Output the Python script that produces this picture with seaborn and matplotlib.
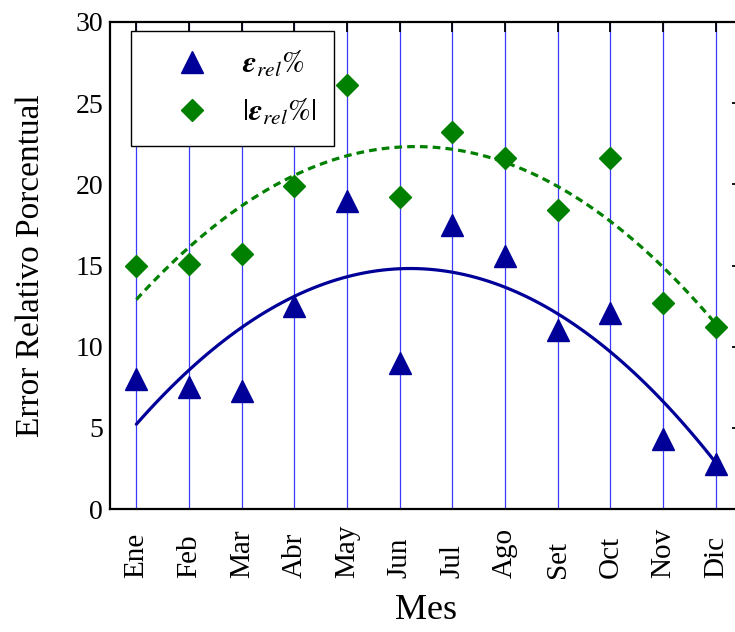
import numpy as np
import pandas as pd
import matplotlib
matplotlib.use('Agg')
import matplotlib.pyplot as plt
import seaborn as sns
from matplotlib.ticker import MultipleLocator

meses = ['Ene', 'Feb', 'Mar', 'Abr', 'May', 'Jun', 'Jul', 'Ago', 'Set', 'Oct', 'Nov', 'Dic']
err_rel = [8.0, 7.5, 7.3, 12.5, 19.0, 9.0, 17.5, 15.6, 11.0, 12.1, 4.3, 2.8]
err_abs = [15.0, 15.1, 15.7, 19.9, 26.1, 19.2, 23.2, 21.6, 18.4, 21.6, 12.7, 11.2]

df = pd.DataFrame({'mes': np.arange(len(meses)), 'rel': err_rel, 'abs': err_abs})

sns.set_style('white')
plt.rcParams['font.family'] = ['Liberation Serif', 'DejaVu Serif']
plt.rcParams['mathtext.fontset'] = 'stix'
plt.rcParams['text.color'] = 'black'
plt.rcParams['axes.labelcolor'] = 'black'
plt.rcParams['xtick.color'] = 'black'
plt.rcParams['ytick.color'] = 'black'

fig = plt.figure(figsize=(7.35, 6.32), dpi=100)
ax = fig.add_axes([0.1497, 0.1946, 0.860, 0.7706])

azul = '#000099'
verde = '#008000'

# month guide lines
for i in range(len(meses)):
    ax.axvline(i, color='#3a3aff', lw=0.9, zorder=0)

# quadratic fits
sns.regplot(data=df, x='mes', y='rel', order=2, ci=None, scatter=False, ax=ax,
            line_kws=dict(color=azul, lw=2.3))
sns.regplot(data=df, x='mes', y='abs', order=2, ci=None, scatter=False, ax=ax,
            line_kws=dict(color=verde, lw=2.3, ls=(0, (2.4, 1.6))))

ax.plot(df['mes'], df['rel'], ls='none', marker='^', ms=16, color=azul,
        mec=azul, label=r'$\mathbfit{\varepsilon}_{rel}\%$', zorder=5)
ax.plot(df['mes'], df['abs'], ls='none', marker='D', ms=11.5, color=verde,
        mec=verde, label=r'$|\mathbfit{\varepsilon}_{rel}\%|$', zorder=5)

ax.set_xlim(-0.5, 11.5)
ax.set_ylim(0, 30)
ax.set_xticks(np.arange(len(meses)))
ax.set_xticklabels(meses, rotation=90, fontsize=21, va='bottom')
ax.yaxis.set_major_locator(MultipleLocator(5))
ax.yaxis.set_minor_locator(MultipleLocator(2.5))
ax.tick_params(axis='y', labelsize=20, pad=5)
ax.tick_params(axis='x', pad=50)
ax.tick_params(which='both', direction='in', top=True, right=True, width=1.3)
ax.tick_params(which='major', length=7)
ax.tick_params(which='minor', length=4)
ax.tick_params(axis='x', which='minor', top=False, bottom=False)

for s in ax.spines.values():
    s.set_color('black')
    s.set_linewidth(1.6)

ax.set_xlabel('Mes', fontsize=26, labelpad=11)
ax.set_ylabel('Error Relativo Porcentual', fontsize=24, labelpad=21)

leg = ax.legend(loc='upper left', bbox_to_anchor=(0.033, 0.9815), fontsize=22,
                frameon=True, fancybox=False, edgecolor='black', framealpha=1,
                handletextpad=0.23, borderpad=0.6, labelspacing=0.6,
                borderaxespad=0, handlelength=2.8)
leg.get_frame().set_linewidth(1.0)

fig.savefig('out.png', dpi=100)
